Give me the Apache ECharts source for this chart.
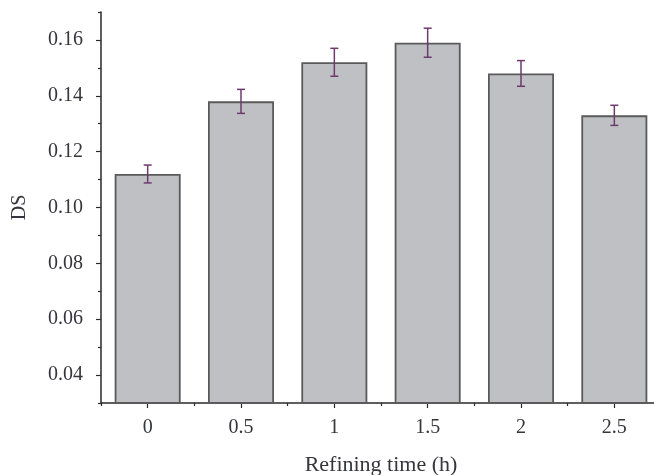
<!DOCTYPE html>
<html>
<head>
<meta charset="utf-8">
<script src="https://cdn.jsdelivr.net/npm/echarts@6/dist/echarts.min.js"></script>
<style>html,body{margin:0;padding:0;background:#fff;}#c{width:654px;height:475px;}</style>
</head>
<body>
<div id="c"></div>
<script>
const categories = ['0', '0.5', '1', '1.5', '2', '2.5'];
const dsValues = [0.112, 0.138, 0.152, 0.159, 0.148, 0.133];
const dsErrors = [0.0032, 0.0043, 0.0050, 0.0052, 0.0046, 0.0036];
const yMajorTicks = [0.04, 0.06, 0.08, 0.10, 0.12, 0.14, 0.16];
const yMinorTicks = [0.03, 0.05, 0.07, 0.09, 0.11, 0.13, 0.15, 0.17];

const FONT = 'Liberation Serif';
const TXT = '#35353d';
const AX = '#2a2a2a';

const chart = echarts.init(document.getElementById('c'), null, {renderer: 'canvas'});
const errData = categories.map((c, i) => [i, dsValues[i] - dsErrors[i], dsValues[i] + dsErrors[i]]);

chart.setOption({
  animation: false,
  backgroundColor: '#fff',
  grid: {left: 101, right: -7, top: 12, bottom: 72, outerBoundsMode: 'none', containLabel: false},
  xAxis: [{
    type: 'category', data: categories, position: 'bottom',
    axisLine: {lineStyle: {color: AX, width: 1.5}},
    axisTick: {show: true, alignWithLabel: true, length: 5, lineStyle: {color: AX, width: 1.2}},
    axisLabel: {fontFamily: FONT, fontSize: 20, color: TXT, margin: 15},
    name: 'Refining time (h)', nameLocation: 'middle', nameGap: 51,
    nameTextStyle: {fontFamily: FONT, fontSize: 22, color: TXT}
  }, {
    type: 'category', data: categories, position: 'bottom',
    axisLine: {show: false},
    axisTick: {show: true, alignWithLabel: false, length: 3, lineStyle: {color: AX, width: 1.2}},
    axisLabel: {show: false}
  }],
  yAxis: [{
    type: 'value', min: 0.03, max: 0.17,
    axisLine: {show: true, lineStyle: {color: AX, width: 1.5}},
    axisTick: {show: true, length: 5, customValues: yMajorTicks, lineStyle: {color: AX, width: 1.2}},
    axisLabel: {fontFamily: FONT, fontSize: 20, color: TXT, margin: 18, customValues: yMajorTicks,
      formatter: v => v.toFixed(2)},
    splitLine: {show: false},
    name: 'DS', nameLocation: 'middle', nameGap: 71,
    nameTextStyle: {fontFamily: FONT, fontSize: 20, color: TXT}
  }, {
    type: 'value', min: 0.03, max: 0.17, position: 'left',
    axisLine: {show: false},
    axisTick: {show: true, length: 3, customValues: yMinorTicks, lineStyle: {color: AX, width: 1.2}},
    axisLabel: {show: false},
    splitLine: {show: false}
  }],
  series: [{
    type: 'bar', data: dsValues, barWidth: 66,
    itemStyle: {color: '#bfc0c4', borderColor: '#5a5a5a', borderWidth: 1.8}
  }, {
    type: 'custom', data: errData, z: 10,
    renderItem: function (params, api) {
      const x = api.value(0);
      const lo = api.coord([x, api.value(1)]);
      const hi = api.coord([x, api.value(2)]);
      const hw = 4;
      const st = {stroke: '#6e3a6e', lineWidth: 1.5};
      return {type: 'group', children: [
        {type: 'line', shape: {x1: lo[0], y1: lo[1], x2: hi[0], y2: hi[1]}, style: st},
        {type: 'line', shape: {x1: lo[0]-hw, y1: lo[1], x2: lo[0]+hw, y2: lo[1]}, style: st},
        {type: 'line', shape: {x1: hi[0]-hw, y1: hi[1], x2: hi[0]+hw, y2: hi[1]}, style: st}
      ]};
    }
  }]
});
</script>
</body>
</html>
